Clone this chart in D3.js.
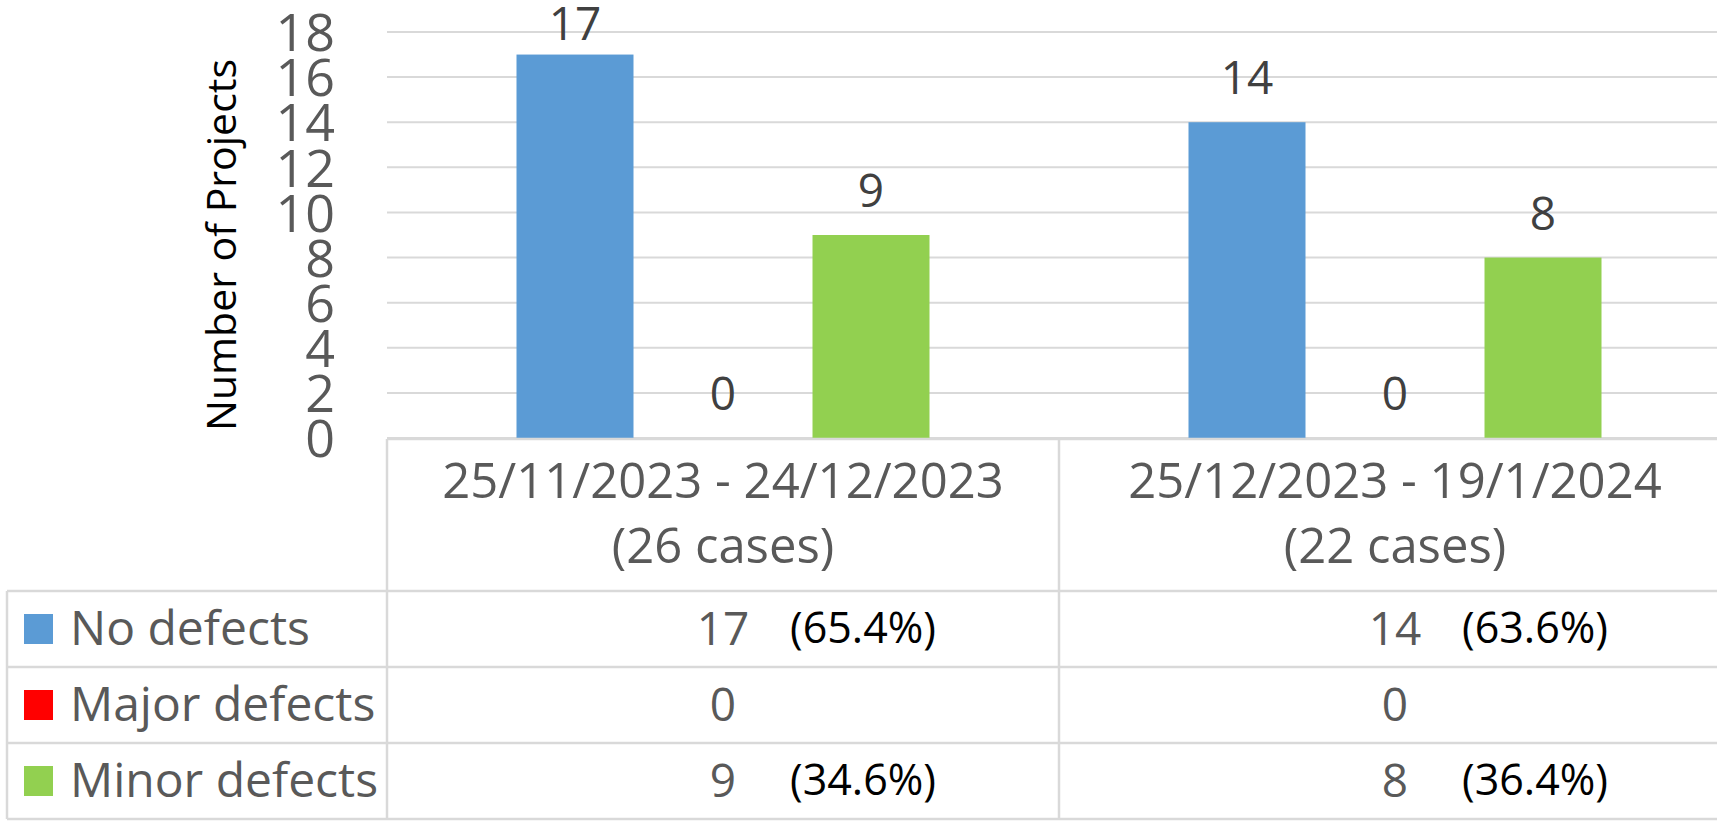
<!DOCTYPE html>
<html>
<head>
<meta charset="utf-8">
<script src="https://cdn.jsdelivr.net/npm/d3@7"></script>
<style>
  html, body { margin: 0; padding: 0; background: #ffffff; }
  svg { display: block; font-family: "Open Sans", "Noto Sans", sans-serif; }
</style>
</head>
<body>
<svg id="chart" width="1717" height="821"></svg>
<script>
// Inspection periods and counts per defect class
const categories = ["25/11/2023 - 24/12/2023", "25/12/2023 - 19/1/2024"];
const seriesNames = ["No defects", "Major defects", "Minor defects"];
const seriesColors = ["#5B9BD5", "#FF0000", "#92D050"];
const noDefects = [17, 14];
const majorDefects = [0, 0];
const minorDefects = [9, 8];
const yTicks = [0, 2, 4, 6, 8, 10, 12, 14, 16, 18];
const yTitle = "Number of Projects";

const seriesValues = [noDefects, majorDefects, minorDefects];
// Which rows of the data table carry a share-of-total note
const showShare = [true, false, true];

const svg = d3.select("#chart");
const W = 1717, H = 821;

svg.append("rect").attr("width", W).attr("height", H).attr("fill", "#ffffff");

// Layout
const plotLeft = 387, plotRight = 1731;
const plotTop = 32, plotBottom = 438;
const tableLeft = 7, rowH = 76;
const gridColor = "#D9D9D9";
const textGray = "#595959";

const x0 = d3.scaleBand().domain(categories).range([plotLeft, plotRight]);
const x1 = d3.scaleBand().domain(seriesNames).range([0, x0.bandwidth()])
  .paddingInner(0.2095).paddingOuter(0.875);
const y = d3.scaleLinear().domain([0, 18]).range([plotBottom, plotTop]);

// Gridlines
svg.append("g").selectAll("line").data(yTicks).join("line")
  .attr("x1", plotLeft).attr("x2", plotRight)
  .attr("y1", d => y(d)).attr("y2", d => y(d))
  .attr("stroke", gridColor).attr("stroke-width", 2);

// Y axis labels
const yAxis = d3.axisLeft(y).tickValues(yTicks).tickSize(0).tickPadding(0);
const yg = svg.append("g").attr("transform", `translate(335,0)`).call(yAxis);
yg.select(".domain").remove();
yg.selectAll("text")
  .attr("font-family", "'Open Sans', sans-serif")
  .attr("font-size", 52).attr("fill", textGray)
  .attr("dy", "0.36em");

// Y axis title
svg.append("text")
  .attr("transform", `translate(236,${(plotTop + plotBottom) / 2 + 10}) rotate(-90)`)
  .attr("text-anchor", "middle")
  .attr("font-size", 41).attr("fill", "#000000")
  .text(yTitle);

// Bars
const groups = svg.append("g").selectAll("g").data(categories).join("g")
  .attr("transform", d => `translate(${x0(d)},0)`);

groups.each(function(cat, ci) {
  const g = d3.select(this);
  seriesNames.forEach((s, si) => {
    const v = seriesValues[si][ci];
    g.append("rect")
      .attr("x", x1(s)).attr("width", x1.bandwidth())
      .attr("y", y(v)).attr("height", y(0) - y(v))
      .attr("fill", seriesColors[si]);
    // Value label above the bar, kept inside the chart's top edge
    const base = Math.max(y(v) - 28, 40);
    g.append("text")
      .attr("x", x1(s) + x1.bandwidth() / 2).attr("y", base)
      .attr("text-anchor", "middle")
      .attr("font-size", 46).attr("fill", "#404040")
      .text(v);
  });
});

// Data table
const tableTop = plotBottom + 1;
const headerBottom = tableTop + 2 * rowH;
const tableBottom = headerBottom + 3 * rowH;
const lines = svg.append("g").attr("stroke", gridColor).attr("stroke-width", 2.5);
lines.append("line").attr("x1", plotLeft).attr("x2", W).attr("y1", tableTop).attr("y2", tableTop);
[0, 1, 2, 3].forEach(r => {
  const yy = headerBottom + r * rowH;
  lines.append("line").attr("x1", tableLeft).attr("x2", W).attr("y1", yy).attr("y2", yy);
});
lines.append("line").attr("x1", tableLeft).attr("x2", tableLeft).attr("y1", headerBottom).attr("y2", tableBottom);
categories.forEach((c, i) => {
  lines.append("line").attr("x1", x0(c)).attr("x2", x0(c)).attr("y1", tableTop).attr("y2", tableBottom);
});

// Column headers: period and case count
categories.forEach((c, i) => {
  const cx = x0(c) + x0.bandwidth() / 2;
  const total = seriesValues.reduce((a, vals) => a + vals[i], 0);
  svg.append("text").attr("x", cx).attr("y", tableTop + 59)
    .attr("text-anchor", "middle").attr("font-size", 49).attr("fill", textGray)
    .text(c);
  svg.append("text").attr("x", cx).attr("y", tableTop + 124)
    .attr("text-anchor", "middle").attr("font-size", 49).attr("fill", textGray)
    .text(`(${total} cases)`);
});

// Rows: legend key, series name, values and shares
seriesNames.forEach((s, si) => {
  const rowTop = headerBottom + si * rowH;
  const mid = rowTop + rowH / 2;
  svg.append("rect").attr("x", 24).attr("y", mid - 15).attr("width", 29).attr("height", 30)
    .attr("fill", seriesColors[si]);
  svg.append("text").attr("x", 70).attr("y", mid + 16)
    .attr("font-size", 48).attr("fill", textGray).text(s);
  categories.forEach((c, ci) => {
    const cx = x0(c) + x0.bandwidth() / 2;
    const v = seriesValues[si][ci];
    svg.append("text").attr("x", cx).attr("y", mid + 16)
      .attr("text-anchor", "middle").attr("font-size", 46).attr("fill", textGray)
      .text(v);
    if (showShare[si]) {
      const total = seriesValues.reduce((a, vals) => a + vals[ci], 0);
      svg.append("text").attr("x", cx + 67).attr("y", mid + 14)
        .attr("font-size", 43).attr("fill", "#000000")
        .text(`(${(v / total * 100).toFixed(1)}%)`);
    }
  });
});
</script>
</body>
</html>
